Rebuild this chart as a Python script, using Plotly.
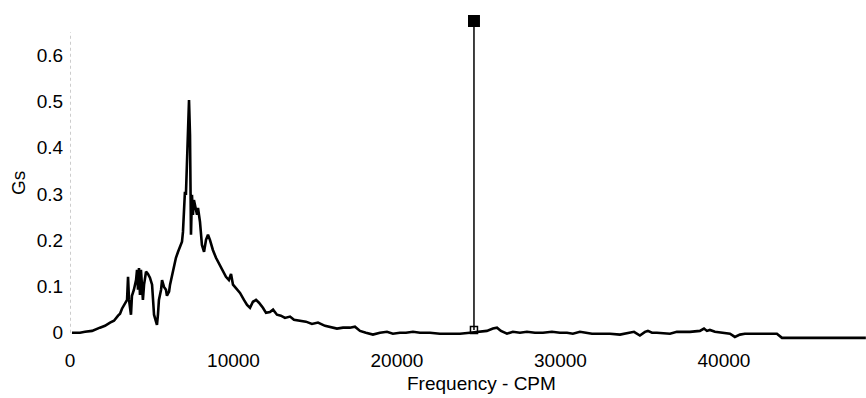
import plotly.graph_objects as go

# Spectrum trace (Frequency in CPM, amplitude in Gs)
freq = [120, 610, 920, 1350, 1830, 2140, 2450, 2690, 2940, 3060, 3180, 3360, 3490, 3550, 3610,
        3730, 3790, 3910, 4040, 4100, 4160, 4220, 4280, 4340, 4460, 4530, 4650, 4770, 4890, 5020,
        5080, 5140, 5260, 5320, 5380, 5440, 5570, 5630, 5750, 5870, 5930, 6060, 6120, 6240, 6360,
        6480, 6610, 6730, 6850, 6910, 6970, 7030, 7090, 7160, 7220, 7280, 7340, 7400, 7460, 7520,
        7580, 7650, 7770, 7830, 7950, 8070, 8200, 8320, 8440, 8560, 8740, 8930, 9170, 9360, 9540,
        9720, 9850, 9970, 10150, 10400, 10640, 10830, 11010, 11190, 11380, 11560, 11800, 11990, 12230, 12420,
        12660, 12900, 13150, 13460, 13700, 14070, 14430, 14800, 15170, 15600, 15900, 16330, 16700, 17120, 17430,
        17740, 18100, 18530, 18960, 19390, 19750, 20180, 20550, 20980, 21410, 22020, 22630, 23240, 23850, 24460,
        25080, 25500, 25870, 26120, 26360, 26730, 27090, 27520, 27950, 28440, 28930, 29480, 29970, 30400, 30760,
        31190, 31560, 31930, 32420, 33030, 33640, 34130, 34500, 34860, 35170, 35350, 35600, 35900, 36390, 36700,
        37120, 37920, 38530, 38780, 38960, 39140, 39450, 39880, 40370, 40670, 40980, 41280, 41900, 42510, 43240,
        43550, 44650, 46480, 48680]
gs = [0.000, 0.000, 0.002, 0.004, 0.011, 0.015, 0.022, 0.026, 0.037, 0.041, 0.052, 0.063, 0.071, 0.121, 0.071,
      0.039, 0.080, 0.093, 0.114, 0.136, 0.093, 0.140, 0.082, 0.136, 0.071, 0.104, 0.132, 0.127, 0.119, 0.104,
      0.071, 0.039, 0.024, 0.017, 0.039, 0.071, 0.093, 0.114, 0.099, 0.093, 0.080, 0.089, 0.104, 0.123, 0.140,
      0.162, 0.175, 0.186, 0.197, 0.218, 0.287, 0.305, 0.298, 0.395, 0.449, 0.503, 0.428, 0.212, 0.298, 0.255,
      0.287, 0.276, 0.255, 0.270, 0.240, 0.190, 0.175, 0.201, 0.212, 0.201, 0.179, 0.162, 0.145, 0.132, 0.121,
      0.114, 0.127, 0.104, 0.097, 0.086, 0.071, 0.060, 0.054, 0.067, 0.071, 0.065, 0.054, 0.043, 0.045, 0.050,
      0.039, 0.037, 0.032, 0.035, 0.028, 0.026, 0.024, 0.019, 0.022, 0.015, 0.013, 0.009, 0.011, 0.011, 0.013,
      0.004, 0.000, -0.004, 0.000, 0.002, -0.002, 0.000, 0.000, 0.002, 0.000, 0.000, -0.002, -0.002, -0.002, 0.000,
      0.002, 0.004, 0.009, 0.011, 0.004, -0.002, 0.002, 0.000, 0.002, 0.000, 0.000, 0.002, 0.000, 0.000, -0.002,
      0.002, 0.000, -0.002, -0.002, -0.002, -0.004, 0.000, 0.002, -0.006, 0.002, 0.004, 0.000, 0.000, -0.002, -0.002,
      0.002, 0.002, 0.004, 0.009, 0.004, 0.006, 0.002, 0.000, -0.002, -0.009, -0.004, -0.002, -0.002, -0.002, -0.002,
      -0.011, -0.011, -0.011, -0.011]

# Cursor marker
cursor_freq = [24710, 24710]
cursor_gs = [0.006, 0.674]

x_ticks = [0, 10000, 20000, 30000, 40000]
x_tick_text = ["0", "10000", "20000", "30000", "40000"]
y_ticks = [0, 0.1, 0.2, 0.3, 0.4, 0.5, 0.6]
y_tick_text = ["0", "0.1", "0.2", "0.3", "0.4", "0.5", "0.6"]

FONT = "Liberation Sans, Arial, sans-serif"

fig = go.Figure()
fig.add_trace(go.Scatter(x=freq, y=gs, mode="lines",
                         line=dict(color="black", width=2.6), hoverinfo="skip"))
fig.add_trace(go.Scatter(x=cursor_freq, y=cursor_gs, mode="lines",
                         line=dict(color="black", width=1.5), hoverinfo="skip"))
fig.add_trace(go.Scatter(x=[cursor_freq[1]], y=[cursor_gs[1]], mode="markers",
                         marker=dict(symbol="square", size=12, color="black"), hoverinfo="skip"))
fig.add_trace(go.Scatter(x=[cursor_freq[0]], y=[cursor_gs[0]], mode="markers",
                         marker=dict(symbol="square-open", size=7, color="black",
                                     line=dict(width=1.5, color="black")), hoverinfo="skip"))

fig.add_shape(type="line", xref="x", yref="y", x0=0, x1=0, y0=0.0, y1=0.65,
              line=dict(color="#999999", width=1, dash="dot"), layer="below")

fig.update_layout(
    width=866, height=398,
    margin=dict(l=70, r=0, t=9, b=56),
    paper_bgcolor="white", plot_bgcolor="white",
    showlegend=False,
    hovermode=False,
    font=dict(family=FONT, size=19, color="black"),
    xaxis=dict(range=[0, 48690], tickvals=x_ticks, ticktext=x_tick_text,
               showgrid=False, zeroline=False, showline=False,
               ticks="outside", ticklen=1, tickcolor="white",
               tickfont=dict(family=FONT, size=19, color="black")),
    yaxis=dict(range=[-0.02, 0.70], tickvals=y_ticks, ticktext=y_tick_text,
               showgrid=False, zeroline=False, showline=False,
               ticks="outside", ticklen=2, tickcolor="white",
               tickfont=dict(family=FONT, size=19, color="black")),
    annotations=[
        dict(text="Frequency - CPM", xref="paper", yref="paper",
             x=(481 - 70) / 796, y=-(383 - 342) / 333, showarrow=False,
             xanchor="center", yanchor="middle", font=dict(family=FONT, size=19)),
        dict(text="Gs", xref="paper", yref="paper", textangle=-90,
             x=(18 - 70) / 796, y=(342 - 183) / 333, showarrow=False,
             xanchor="center", yanchor="middle", font=dict(family=FONT, size=19)),
    ],
)

fig.write_html("out.html",
               config={"displayModeBar": False, "staticPlot": True},
               post_script="document.body.style.margin='0';document.body.style.overflow='hidden';")
